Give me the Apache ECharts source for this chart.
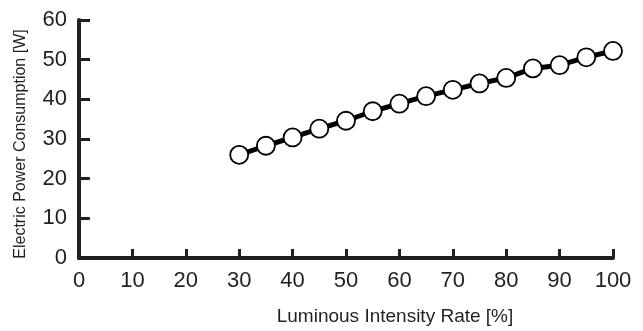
<!DOCTYPE html>
<html><head><meta charset="utf-8">
<script src="https://cdn.jsdelivr.net/npm/echarts@6/dist/echarts.min.js"></script>
<style>html,body{margin:0;padding:0;background:#fff}#c{width:643px;height:331px}</style>
</head><body><div id="c"></div>
<script>
const xValues = [30, 35, 40, 45, 50, 55, 60, 65, 70, 75, 80, 85, 90, 95, 100];
const powerW = [26.0, 28.3, 30.4, 32.6, 34.6, 37.0, 38.9, 40.8, 42.4, 44.0, 45.4, 47.8, 48.6, 50.6, 52.2];
const xAxisTitle = 'Luminous Intensity Rate [%]';
const yAxisTitle = 'Electric Power Consumption [W]';

const ink = '#231f20';
const font = 'Liberation Sans, Arial, sans-serif';
const chart = echarts.init(document.getElementById('c'), null, {renderer: 'canvas'});
chart.setOption({
  animation: false,
  grid: {left: 79, right: 30, top: 20, bottom: 68},
  xAxis: {
    type: 'value', min: 0, max: 100, interval: 10,
    name: xAxisTitle, nameLocation: 'middle', nameGap: 49,
    nameTextStyle: {fontFamily: font, fontSize: 19, color: ink, padding: [0, 0, 0, 98]},
    axisLine: {show: true, onZero: false, lineStyle: {color: ink, width: 4}},
    axisTick: {show: true, inside: true, length: 9, lineStyle: {color: ink, width: 3}},
    axisLabel: {fontFamily: font, fontSize: 22, color: ink, margin: 12},
    splitLine: {show: false}
  },
  yAxis: {
    type: 'value', min: 0, max: 60, interval: 10,
    name: yAxisTitle, nameLocation: 'middle', nameGap: 50,
    nameTextStyle: {fontFamily: font, fontSize: 16, color: ink, padding: [0, 10, 0, 0]},
    axisLine: {show: true, onZero: false, lineStyle: {color: ink, width: 4}},
    axisTick: {show: true, inside: true, length: 11, lineStyle: {color: ink, width: 3}},
    axisLabel: {fontFamily: font, fontSize: 22, color: ink, margin: 12},
    splitLine: {show: false}
  },
  series: [{
    type: 'line',
    data: xValues.map((x, i) => [x, powerW[i]]),
    lineStyle: {color: '#000', width: 5},
    symbol: 'circle', symbolSize: 18,
    itemStyle: {color: '#fff', borderColor: '#000', borderWidth: 1.8},
    z: 3
  }]
});
</script></body></html>
